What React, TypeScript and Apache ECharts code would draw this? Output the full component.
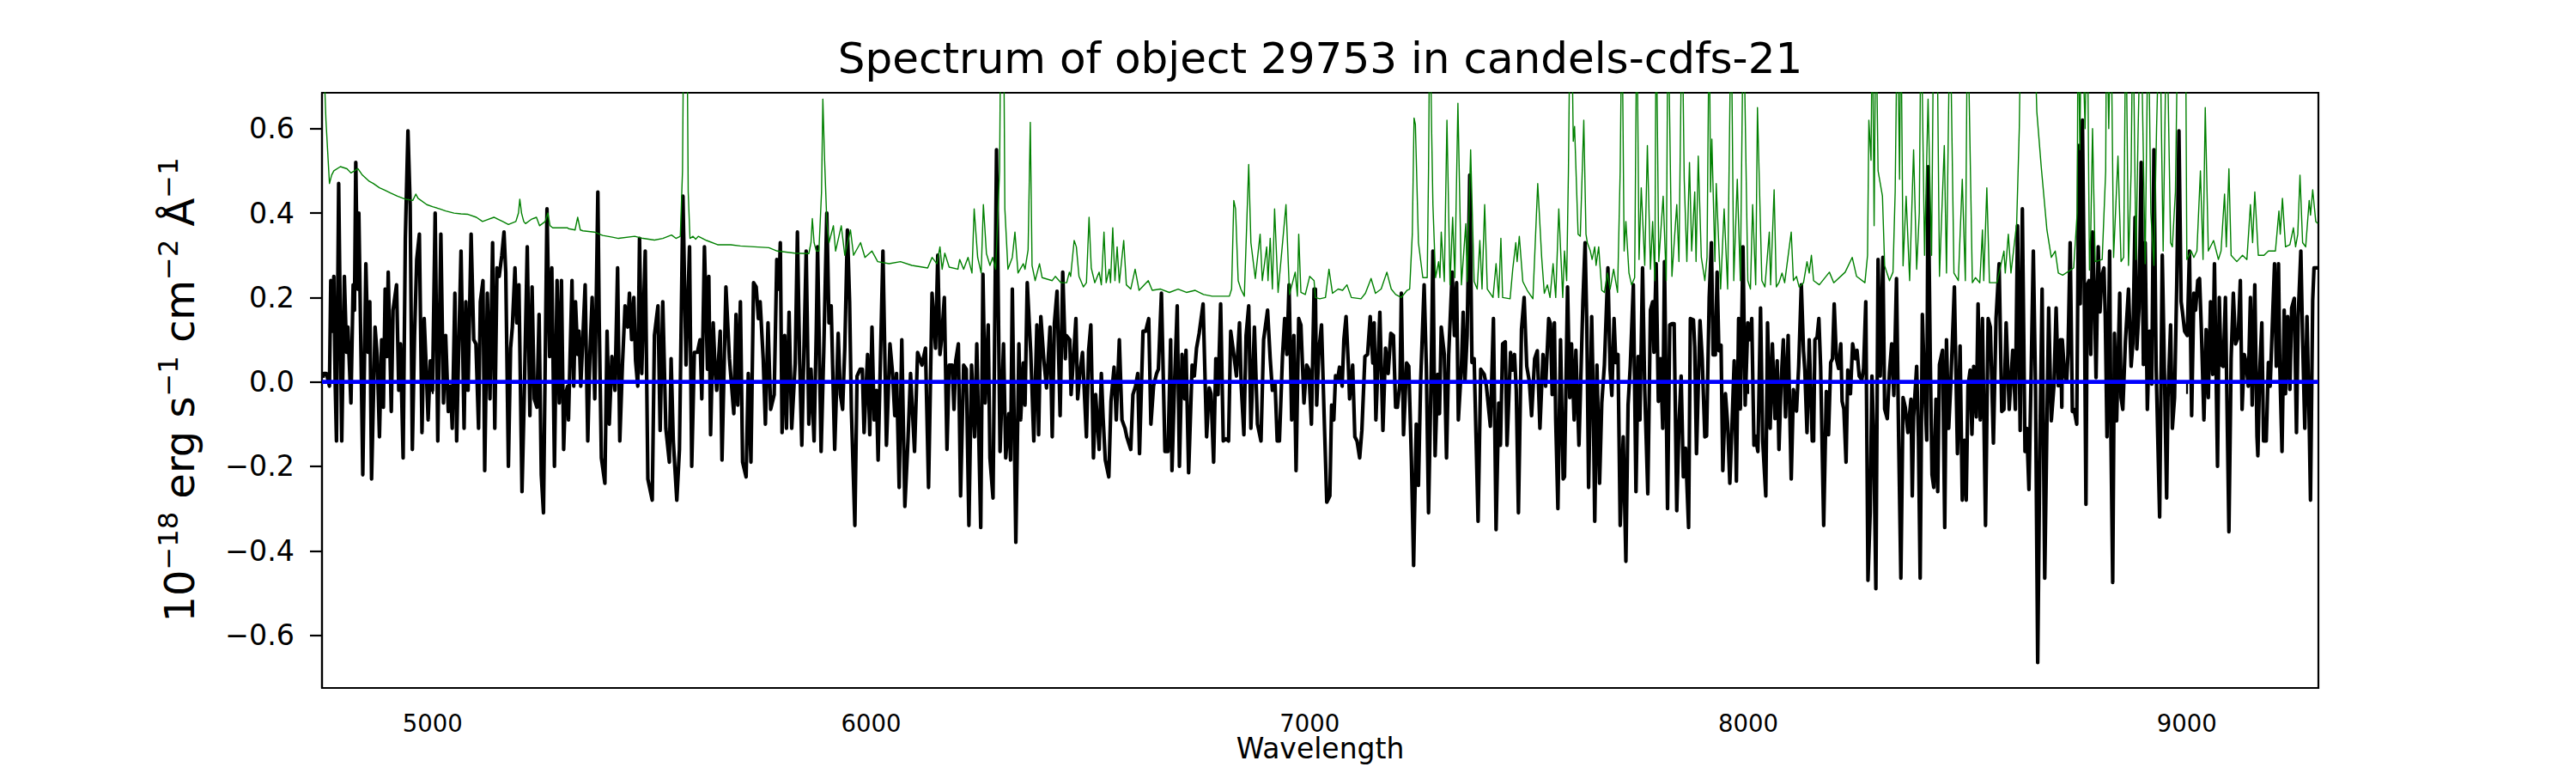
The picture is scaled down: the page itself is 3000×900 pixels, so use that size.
import React, { useEffect, useRef } from "react";
import * as echarts from "echarts";

const TITLE = "Spectrum of object 29753 in candels-cdfs-21";
const X_NAME = "Wavelength";
const X_RANGE = [4748, 9300];
const Y_RANGE = [-0.725, 0.685];
const X_TICKS = [5000, 6000, 7000, 8000, 9000];
const Y_TICKS = [-0.6, -0.4, -0.2, 0, 0.2, 0.4, 0.6];

// observed flux (black), wavelength in Å, flux in 1e-18 erg/s/cm2/Å
const fluxA = [[4750,0.01],[4752,0.02],[4758,0.02],[4765,-0.01],[4768,0.24],[4771,0.12],[4775,0.25],[4778,0.0],[4781,-0.14],[4786,0.47],[4793,-0.14],[4799,0.25],[4804,0.07],[4807,0.13],[4814,-0.05],[4819,0.23],[4822,0.17],[4825,0.52],[4829,0.22],[4832,0.40],[4837,0.06],[4841,-0.22],[4848,0.28],[4853,0.07],[4857,0.19],[4861,-0.23],[4869,0.13],[4874,0.06],[4879,-0.13],[4884,0.10],[4888,-0.06],[4892,0.22],[4896,0.06],[4899,0.26],[4906,-0.07],[4910,0.17],[4918,0.23],[4923,-0.02],[4927,0.09],[4933,-0.18],[4938,0.34],[4944,0.595],[4949,0.42],[4954,-0.16],[4959,0.11],[4964,0.29],[4970,0.35],[4976,-0.12],[4981,0.15],[4985,0.05],[4990,-0.09],[4995,0.05],[5000,-0.02],[5006,0.40],[5012,-0.14],[5019,0.35],[5025,-0.05],[5030,0.11],[5036,-0.07],[5041,-0.01],[5045,-0.11],[5051,0.21],[5055,-0.14],[5060,0.09],[5065,0.31],[5072,-0.11],[5076,0.19],[5081,-0.02],[5088,0.35],[5094,0.10],[5099,0.09],[5105,-0.11],[5109,0.19],[5115,0.24],[5119,-0.21],[5125,0.21],[5131,-0.04],[5137,0.33],[5142,-0.11],[5147,0.27],[5152,0.25],[5158,0.30],[5163,0.355],[5167,0.26],[5173,-0.20],[5178,0.08],[5182,0.13],[5188,0.27],[5192,0.14],[5197,0.23],[5204,-0.26],[5209,-0.04],[5216,0.32],[5222,-0.08],[5227,0.225],[5232,-0.04],[5238,-0.06],[5243,0.16],[5248,-0.22],[5253,-0.31],[5261,0.41],[5267,0.06],[5272,0.27],[5278,-0.20],[5284,0.24],[5289,-0.05],[5294,0.24],[5299,-0.16],[5303,-0.03],[5308,-0.01]];
const fluxB = [[5310,-0.09],[5318,0.24],[5322,-0.01],[5326,0.19],[5331,0.065],[5334,0.12],[5338,-0.01],[5343,0.11],[5348,0.23],[5354,-0.14],[5359,0.07],[5364,0.20],[5370,-0.04],[5377,0.45],[5380,0.15],[5385,-0.18],[5393,-0.24],[5398,0.12],[5403,-0.10],[5409,0.06],[5416,-0.02],[5422,0.27],[5427,-0.14],[5433,0.04],[5439,0.18],[5445,0.13],[5449,0.21],[5454,0.10],[5459,0.20],[5463,0.05],[5468,-0.01],[5472,0.34],[5477,0.02],[5485,0.31],[5491,-0.23],[5501,-0.28],[5506,0.11],[5514,0.18],[5519,-0.115],[5525,0.19],[5532,-0.11],[5540,-0.19],[5544,0.055],[5549,-0.14],[5557,-0.28],[5563,-0.16],[5571,0.44],[5578,0.04],[5586,0.32],[5591,-0.20],[5597,0.07],[5604,0.07],[5610,0.10],[5614,-0.04],[5620,0.32],[5627,0.03],[5630,0.25],[5634,-0.125],[5640,0.14],[5644,0.04],[5648,-0.02],[5656,0.12],[5660,-0.185],[5669,0.225],[5677,0.055],[5687,-0.075],[5692,0.16],[5696,-0.055],[5702,0.19],[5707,-0.19],[5715,-0.225],[5720,0.02],[5726,-0.19],[5732,0.235],[5738,0.225],[5743,0.15],[5747,0.19],[5754,0.055],[5759,-0.10],[5765,0.14],[5771,-0.065],[5779,-0.03],[5785,0.29],[5790,0.22],[5793,0.33],[5797,-0.12],[5803,0.11],[5807,-0.11],[5813,0.165],[5819,-0.11],[5827,0.045],[5832,0.355],[5837,0.055],[5842,-0.15],[5852,0.31],[5858,-0.10],[5863,0.03],[5870,-0.14],[5875,0.12]];
const fluxC = [[5878,0.32],[5886,-0.165],[5892,0.07],[5899,0.40],[5904,0.14],[5909,0.18],[5917,-0.16],[5925,0.115],[5930,-0.03],[5935,-0.065],[5940,0.08],[5946,0.36],[5951,0.19],[5955,-0.065],[5963,-0.34],[5968,0.014],[5975,0.03],[5980,0.03],[5984,-0.12],[5992,0.065],[5997,-0.125],[6002,0.13],[6007,-0.09],[6012,-0.02],[6016,-0.185],[6027,0.31],[6035,-0.15],[6043,0.09],[6049,0.02],[6054,-0.08],[6058,0.02],[6064,-0.25],[6070,0.10],[6077,-0.295],[6084,-0.14],[6090,0.02],[6099,-0.165],[6106,0.07],[6116,0.04],[6124,0.08],[6131,-0.25],[6139,0.21],[6147,0.08],[6152,0.30],[6157,0.065],[6161,0.105],[6167,0.20],[6173,-0.16],[6178,0.04],[6185,0.04],[6189,-0.065],[6193,0.05],[6199,0.09],[6204,-0.27],[6211,0.04],[6217,0.03],[6223,-0.34],[6229,0.04],[6236,-0.13],[6241,0.09],[6250,-0.345],[6255,0.255],[6260,-0.05],[6267,0.135],[6271,-0.18],[6278,-0.275],[6286,0.55],[6294,-0.165],[6302,0.09],[6307,-0.18],[6314,-0.075],[6318,-0.185],[6322,0.22],[6330,-0.38],[6337,0.09],[6341,-0.09],[6347,0.045],[6351,-0.055],[6356,0.235],[6364,0.07],[6371,-0.14],[6378,0.135],[6382,-0.125],[6387,0.155],[6394,0.05],[6400,-0.014],[6408,0.13],[6413,-0.13],[6418,0.14],[6424,0.215],[6431,-0.08],[6437,0.26],[6443,0.055]];
const fluxD = [[6445,0.11],[6453,0.10],[6456,-0.03],[6461,0.05],[6467,0.15],[6471,-0.04],[6476,0.02],[6482,0.07],[6491,-0.13],[6496,0.075],[6501,0.135],[6507,-0.18],[6512,-0.03],[6520,-0.16],[6525,0.02],[6529,-0.085],[6534,-0.185],[6542,-0.225],[6547,-0.046],[6554,0.035],[6559,-0.09],[6566,0.10],[6572,-0.09],[6579,-0.11],[6583,-0.13],[6592,-0.16],[6597,-0.03],[6603,-0.01],[6608,0.02],[6612,-0.17],[6620,0.12],[6626,0.12],[6633,0.15],[6638,-0.10],[6644,-0.01],[6651,0.02],[6655,0.03],[6662,0.21],[6670,-0.165],[6677,-0.165],[6683,0.10],[6686,-0.21],[6692,0.0],[6698,0.18],[6703,-0.20],[6709,0.065],[6715,-0.04],[6718,0.075],[6724,-0.215],[6732,0.04],[6737,0.014],[6742,0.08],[6748,0.115],[6757,0.185],[6765,-0.13],[6771,-0.014],[6775,-0.028],[6781,-0.19],[6786,0.055],[6791,-0.03],[6797,0.185],[6803,-0.14],[6809,-0.135],[6815,-0.14],[6820,0.12],[6827,0.065],[6833,0.014],[6840,0.14],[6844,-0.01],[6850,-0.125],[6855,0.11],[6861,0.18],[6866,-0.11],[6874,0.13],[6881,-0.10],[6889,-0.14],[6895,0.10],[6904,0.17],[6910,0.055],[6915,-0.02],[6921,0.0],[6926,-0.14],[6931,-0.14],[6938,0.06],[6943,0.15],[6948,0.065],[6953,0.23],[6959,-0.09],[6964,0.11],[6969,-0.21],[6975,0.15],[6980,0.135],[6987,-0.05],[6993,0.04],[6998,0.03],[7004,-0.10],[7010,0.22]];
const fluxE = [[7013,0.22],[7016,-0.055],[7021,0.075],[7027,0.135],[7033,-0.08],[7039,-0.285],[7046,-0.27],[7050,-0.055],[7055,-0.09],[7059,0.015],[7063,0.0],[7068,0.035],[7074,-0.01],[7078,0.10],[7083,0.155],[7088,0.045],[7091,-0.04],[7098,0.04],[7103,-0.13],[7108,-0.14],[7114,-0.18],[7119,-0.115],[7126,0.06],[7132,0.065],[7138,0.155],[7144,0.045],[7147,0.14],[7151,-0.09],[7160,0.165],[7167,-0.115],[7173,0.08],[7179,0.02],[7185,0.115],[7191,0.11],[7196,-0.06],[7200,-0.06],[7206,0.0],[7209,0.21],[7214,-0.125],[7221,0.045],[7226,0.037],[7232,-0.185],[7237,-0.435],[7243,-0.10],[7248,-0.245],[7253,0.0],[7261,0.23],[7266,0.037],[7271,-0.31],[7277,0.018],[7281,0.31],[7286,-0.175],[7292,0.018],[7296,-0.075],[7300,0.13],[7307,0.065],[7312,-0.18],[7317,0.065],[7325,0.26],[7330,0.11],[7335,0.235],[7339,-0.09],[7346,0.037],[7350,0.165],[7354,0.0],[7359,0.11],[7365,0.49],[7370,0.046],[7375,0.055],[7384,-0.33],[7390,0.03],[7398,0.018],[7403,-0.01],[7412,-0.105],[7419,0.15],[7425,-0.35],[7431,-0.05],[7435,-0.15],[7440,0.09],[7446,0.095],[7450,-0.15],[7458,0.07],[7463,0.028],[7467,0.065],[7471,-0.018],[7476,-0.31],[7483,0.125],[7489,0.20],[7495,0.037],[7501,0.0],[7506,-0.08],[7513,0.055],[7519,0.074],[7525,-0.11],[7532,0.065],[7538,-0.01],[7545,0.15],[7549,0.138],[7553,-0.03],[7558,0.14],[7561,-0.09],[7566,-0.30],[7572,0.10],[7578,-0.23]];
const fluxF = [[7581,-0.225],[7588,0.225],[7593,-0.037],[7597,0.09],[7603,-0.09],[7607,0.075],[7614,-0.15],[7619,0.037],[7623,0.19],[7628,0.33],[7632,0.13],[7636,-0.25],[7643,0.155],[7646,0.0],[7650,-0.33],[7655,0.04],[7661,-0.24],[7666,-0.05],[7672,0.04],[7680,0.27],[7685,0.028],[7689,-0.032],[7694,0.15],[7698,0.046],[7703,0.065],[7708,-0.34],[7715,-0.13],[7721,-0.425],[7726,-0.055],[7731,0.037],[7738,0.23],[7744,-0.26],[7749,0.06],[7753,-0.09],[7759,0.27],[7764,-0.018],[7771,-0.265],[7777,0.17],[7782,0.19],[7785,0.07],[7790,0.28],[7795,-0.046],[7800,0.055],[7805,-0.11],[7809,0.285],[7816,-0.30],[7821,0.135],[7826,0.138],[7831,0.138],[7837,-0.305],[7842,-0.10],[7847,0.014],[7852,-0.225],[7857,-0.157],[7864,-0.345],[7868,0.15],[7875,0.147],[7878,0.083],[7882,-0.17],[7890,0.145],[7895,0.055],[7901,-0.13],[7905,-0.128],[7911,0.20],[7916,0.33],[7920,0.064],[7925,0.064],[7929,0.26],[7933,0.074],[7938,0.087],[7942,-0.21],[7948,-0.028],[7953,-0.10],[7958,-0.24],[7963,-0.10],[7968,0.05],[7973,-0.235],[7978,0.15],[7982,-0.064],[7988,0.32],[7993,-0.055],[7999,0.14],[8004,0.10],[8008,0.15],[8013,-0.15],[8016,-0.128],[8022,-0.165],[8028,0.175],[8033,-0.14],[8040,-0.27],[8044,0.14],[8050,-0.11],[8055,0.09],[8061,-0.087],[8066,0.05],[8070,-0.16],[8075,0.0],[8080,0.10],[8085,-0.083],[8091,0.11],[8098,-0.23],[8103,-0.018],[8110,-0.069],[8115,0.037],[8121,0.23],[8126,0.074],[8129,0.028],[8134,-0.12],[8139,0.10],[8146,-0.14]];
const fluxG = [[8149,-0.14],[8152,0.10],[8157,0.106],[8161,0.15],[8165,0.037],[8172,-0.34],[8178,-0.023],[8183,-0.125],[8188,0.046],[8192,0.055],[8196,0.185],[8201,0.055],[8206,0.032],[8211,0.09],[8214,-0.046],[8218,-0.064],[8223,-0.19],[8227,0.028],[8233,-0.028],[8238,0.09],[8244,0.055],[8248,0.075],[8253,0.014],[8259,0.005],[8263,0.032],[8268,0.19],[8273,-0.47],[8278,-0.31],[8282,0.014],[8286,-0.13],[8291,-0.49],[8296,0.29],[8301,0.014],[8307,0.295],[8311,-0.064],[8317,-0.087],[8322,0.023],[8327,0.09],[8332,-0.032],[8338,0.245],[8343,-0.138],[8348,-0.465],[8353,-0.037],[8358,-0.06],[8364,-0.12],[8371,-0.041],[8374,-0.27],[8377,-0.083],[8384,0.037],[8388,-0.13],[8392,-0.465],[8397,0.16],[8402,-0.01],[8407,-0.138],[8410,0.51],[8415,0.055],[8419,-0.22],[8423,-0.25],[8428,-0.041],[8432,-0.26],[8436,0.041],[8443,0.075],[8448,-0.345],[8452,0.10],[8457,-0.11],[8462,0.0],[8470,0.225],[8477,-0.17],[8483,0.085],[8488,-0.28],[8493,-0.138],[8497,-0.28],[8501,-0.01],[8506,0.028],[8510,-0.124],[8514,0.037],[8520,-0.083],[8524,0.185],[8529,-0.09],[8534,0.15],[8541,-0.34],[8547,0.15],[8552,0.13],[8559,-0.145],[8565,0.15],[8572,0.28],[8578,-0.07],[8583,-0.065],[8588,0.14],[8595,-0.065],[8603,0.075],[8609,-0.065],[8614,0.37],[8620,-0.115],[8625,0.41],[8631,-0.165],[8635,-0.11],[8640,-0.255],[8645,0.018],[8650,0.31],[8655,-0.014],[8660,-0.665],[8665,-0.147],[8670,0.22],[8676,-0.465],[8681,-0.101],[8685,0.175],[8691,-0.092],[8697,-0.009],[8702,0.175],[8707,-0.009],[8712,0.10],[8715,-0.06]];
const fluxH = [[8716,0.10],[8721,0.023],[8726,0.0],[8729,0.065],[8734,0.33],[8739,-0.07],[8743,-0.065],[8749,-0.10],[8754,0.56],[8757,0.185],[8762,0.62],[8766,0.24],[8770,-0.29],[8773,0.23],[8777,0.24],[8781,0.065],[8785,0.355],[8789,0.22],[8793,0.01],[8798,0.32],[8802,0.166],[8806,0.25],[8811,0.27],[8814,0.157],[8818,-0.13],[8824,0.31],[8827,-0.134],[8831,-0.475],[8835,0.115],[8840,-0.092],[8847,0.21],[8850,-0.037],[8854,-0.065],[8860,0.097],[8867,0.22],[8873,0.037],[8877,0.092],[8882,0.39],[8886,0.078],[8891,0.175],[8896,0.52],[8901,0.041],[8905,0.33],[8910,-0.065],[8915,0.12],[8920,-0.005],[8925,0.55],[8930,0.037],[8938,-0.32],[8944,0.30],[8949,0.018],[8954,-0.275],[8957,-0.037],[8963,0.135],[8967,-0.11],[8972,-0.037],[8977,0.23],[8982,0.595],[8987,0.19],[8990,0.166],[8995,0.12],[9001,0.11],[9006,0.31],[9011,-0.08],[9016,0.21],[9020,0.17],[9025,0.24],[9029,0.245],[9033,0.129],[9039,-0.09],[9044,0.124],[9049,-0.037],[9054,0.19],[9059,0.018],[9063,0.28],[9070,-0.20],[9074,0.20],[9078,0.041],[9083,0.037],[9088,0.20],[9096,-0.355],[9101,0.055],[9106,0.21],[9111,0.09],[9117,0.106],[9122,0.24],[9126,-0.065],[9131,0.065],[9135,0.046],[9140,-0.01],[9145,0.20],[9149,-0.055],[9155,0.23],[9160,-0.129],[9162,-0.175],[9166,0.018],[9171,0.14],[9175,-0.14],[9181,-0.14],[9186,0.046],[9190,-0.01],[9196,0.165],[9200,0.28],[9204,0.037],[9209,0.28],[9212,0.037],[9217,-0.165],[9222,0.17],[9225,-0.028],[9230,0.155],[9235,-0.018],[9239,0.175],[9245,0.198],[9250,-0.12],[9254,0.157],[9260,0.31],[9264,0.10],[9269,-0.11],[9274,0.155],[9279,-0.092],[9282,-0.28],[9287,0.194],[9290,0.27],[9295,0.27],[9299,0.27]];

// error spectrum (green); values above the axis top are clipped
const errA = [[4749,0.85],[4757,0.62],[4765,0.47],[4770,0.49],[4775,0.50],[4790,0.51],[4805,0.505],[4814,0.495],[4830,0.505],[4840,0.49],[4856,0.475],[4865,0.47],[4879,0.46],[4890,0.455],[4905,0.447],[4920,0.44],[4938,0.433],[4955,0.43],[4962,0.445],[4967,0.435],[4987,0.42],[5000,0.415],[5016,0.41],[5030,0.405],[5049,0.40],[5065,0.398],[5081,0.397],[5100,0.39],[5114,0.38],[5140,0.39],[5160,0.38],[5173,0.373],[5190,0.38],[5196,0.40],[5199,0.433],[5203,0.40],[5208,0.38],[5212,0.375],[5225,0.385],[5237,0.39],[5244,0.37],[5257,0.38],[5263,0.40],[5268,0.37],[5274,0.365],[5283,0.365],[5308,0.365]];
const errB = [[5310,0.363],[5325,0.36],[5331,0.39],[5337,0.36],[5343,0.358],[5369,0.355],[5388,0.347],[5410,0.343],[5424,0.34],[5461,0.345],[5480,0.34],[5506,0.336],[5525,0.34],[5545,0.348],[5555,0.34],[5565,0.345],[5570,0.5],[5573,0.9],[5580,0.9],[5583,0.45],[5587,0.34],[5594,0.345],[5600,0.338],[5606,0.345],[5625,0.335],[5650,0.325],[5680,0.325],[5702,0.322],[5734,0.32],[5767,0.318],[5786,0.31],[5826,0.305],[5858,0.304],[5863,0.33],[5866,0.387],[5870,0.33],[5875,0.31]];
const errC = [[5881,0.31],[5887,0.45],[5890,0.67],[5894,0.525],[5899,0.38],[5904,0.33],[5914,0.37],[5919,0.31],[5932,0.37],[5940,0.30],[5953,0.36],[5960,0.30],[5976,0.33],[5986,0.295],[6002,0.31],[6015,0.285],[6041,0.28],[6067,0.285],[6093,0.276],[6129,0.27],[6139,0.295],[6150,0.28],[6157,0.32],[6162,0.267],[6168,0.305],[6178,0.272],[6198,0.267],[6202,0.29],[6211,0.267],[6221,0.295],[6230,0.258],[6235,0.41],[6243,0.295],[6251,0.258],[6256,0.42],[6263,0.304],[6271,0.276],[6277,0.295],[6284,0.267],[6293,0.5],[6296,0.9],[6302,0.9],[6305,0.41],[6312,0.267],[6322,0.295],[6328,0.355],[6335,0.258],[6347,0.28],[6351,0.267],[6358,0.313],[6363,0.615],[6367,0.276],[6374,0.24],[6384,0.28],[6390,0.247],[6413,0.24],[6420,0.25],[6433,0.235],[6446,0.235]];
const errD = [[6452,0.26],[6455,0.25],[6463,0.335],[6468,0.32],[6474,0.25],[6484,0.225],[6491,0.235],[6497,0.39],[6502,0.27],[6510,0.235],[6520,0.26],[6525,0.23],[6531,0.355],[6536,0.235],[6543,0.267],[6546,0.235],[6551,0.365],[6556,0.24],[6561,0.32],[6566,0.235],[6576,0.335],[6582,0.23],[6592,0.22],[6602,0.267],[6611,0.217],[6632,0.24],[6641,0.217],[6660,0.22],[6680,0.212],[6700,0.22],[6719,0.212],[6739,0.217],[6758,0.207],[6778,0.203],[6817,0.203],[6822,0.22],[6827,0.43],[6831,0.41],[6837,0.24],[6843,0.22],[6851,0.203],[6861,0.515],[6866,0.33],[6876,0.245],[6887,0.35],[6892,0.24],[6902,0.32],[6905,0.24],[6910,0.34],[6915,0.22],[6920,0.41],[6928,0.212],[6946,0.42],[6954,0.207],[6967,0.26],[6972,0.203],[6975,0.35],[6980,0.212],[6990,0.207],[7000,0.25],[7010,0.24]];
const errE = [[7013,0.20],[7023,0.197],[7036,0.20],[7044,0.267],[7052,0.21],[7065,0.22],[7075,0.217],[7085,0.23],[7095,0.20],[7117,0.197],[7127,0.21],[7140,0.245],[7150,0.21],[7163,0.22],[7176,0.26],[7186,0.22],[7196,0.207],[7209,0.20],[7222,0.217],[7228,0.22],[7234,0.35],[7238,0.625],[7241,0.61],[7248,0.33],[7258,0.247],[7268,0.247],[7271,0.5],[7274,0.9],[7278,0.6],[7281,0.42],[7287,0.247],[7294,0.285],[7297,0.247],[7300,0.355],[7307,0.238],[7313,0.62],[7320,0.23],[7326,0.39],[7331,0.247],[7338,0.66],[7346,0.23],[7356,0.375],[7359,0.238],[7367,0.55],[7375,0.238],[7382,0.22],[7388,0.335],[7393,0.22],[7399,0.42],[7405,0.22],[7418,0.20],[7425,0.28],[7431,0.20],[7436,0.34],[7440,0.20],[7457,0.197],[7463,0.267],[7470,0.33],[7473,0.285],[7478,0.345],[7486,0.238],[7496,0.217],[7509,0.197],[7520,0.47],[7529,0.295],[7535,0.21],[7542,0.23],[7548,0.20],[7555,0.28],[7561,0.20],[7568,0.41],[7577,0.20]];
const errF = [[7581,0.31],[7586,0.24],[7590,0.5],[7594,0.9],[7597,0.9],[7601,0.57],[7604,0.605],[7612,0.35],[7617,0.345],[7625,0.62],[7630,0.35],[7633,0.33],[7640,0.31],[7644,0.29],[7650,0.32],[7653,0.276],[7659,0.32],[7666,0.217],[7672,0.212],[7679,0.258],[7685,0.22],[7693,0.267],[7702,0.212],[7708,0.5],[7712,0.9],[7717,0.31],[7721,0.38],[7728,0.258],[7734,0.23],[7741,0.247],[7746,0.9],[7751,0.29],[7756,0.46],[7764,0.276],[7770,0.56],[7777,0.267],[7782,0.38],[7787,0.24],[7790,0.9],[7796,0.285],[7806,0.44],[7813,0.24],[7817,0.9],[7826,0.25],[7837,0.42],[7842,0.285],[7849,0.9],[7854,0.48],[7860,0.285],[7866,0.52],[7871,0.31],[7878,0.45],[7881,0.285],[7886,0.535],[7893,0.295],[7901,0.24],[7906,0.295],[7911,0.9],[7914,0.45],[7917,0.575],[7924,0.285],[7927,0.47],[7937,0.22],[7945,0.41],[7953,0.22],[7961,0.9],[7967,0.24],[7975,0.48],[7982,0.24],[7989,0.9],[7999,0.24],[8005,0.22],[8010,0.42],[8017,0.23],[8021,0.65],[8031,0.24],[8038,0.225],[8048,0.355],[8051,0.23],[8059,0.455],[8064,0.225],[8070,0.235],[8077,0.258],[8083,0.235],[8098,0.355],[8103,0.24],[8110,0.25],[8116,0.225],[8126,0.235],[8134,0.285],[8139,0.258],[8144,0.30],[8149,0.24]];
const errG = [[8162,0.23],[8185,0.26],[8195,0.235],[8221,0.26],[8237,0.295],[8247,0.25],[8266,0.235],[8272,0.30],[8275,0.62],[8280,0.525],[8283,0.9],[8287,0.37],[8291,0.9],[8296,0.5],[8306,0.44],[8311,0.275],[8322,0.24],[8330,0.26],[8335,0.45],[8340,0.9],[8345,0.48],[8348,0.9],[8353,0.275],[8360,0.44],[8368,0.24],[8377,0.55],[8384,0.267],[8390,0.4],[8394,0.9],[8402,0.30],[8410,0.67],[8418,0.30],[8423,0.9],[8430,0.9],[8436,0.25],[8447,0.56],[8452,0.258],[8460,0.9],[8469,0.258],[8479,0.24],[8488,0.48],[8495,0.24],[8500,0.9],[8511,0.235],[8518,0.247],[8528,0.235],[8534,0.36],[8537,0.24],[8544,0.46],[8550,0.235],[8567,0.235],[8583,0.31],[8586,0.258],[8593,0.35],[8599,0.258],[8612,0.375],[8618,0.6],[8622,0.9],[8651,0.9],[8658,0.64],[8668,0.51],[8681,0.36],[8691,0.295],[8700,0.31],[8707,0.258],[8717,0.253]];
const errH = [[8742,0.27],[8750,0.4],[8752,0.9],[8756,0.55],[8760,0.9],[8768,0.6],[8773,0.9],[8778,0.265],[8781,0.355],[8785,0.60],[8791,0.285],[8807,0.29],[8815,0.5],[8817,0.9],[8822,0.6],[8827,0.9],[8833,0.295],[8843,0.535],[8850,0.285],[8856,0.295],[8861,0.9],[8867,0.276],[8873,0.5],[8877,0.9],[8884,0.29],[8889,0.6],[8895,0.9],[8905,0.28],[8912,0.9],[8918,0.4],[8925,0.276],[8931,0.6],[8938,0.9],[8946,0.31],[8954,0.9],[8963,0.33],[8967,0.32],[8974,0.45],[8980,0.9],[8997,0.9],[9000,0.29],[9010,0.31],[9016,0.295],[9023,0.31],[9031,0.50],[9037,0.29],[9042,0.65],[9049,0.31],[9061,0.335],[9072,0.29],[9078,0.31],[9086,0.445],[9090,0.32],[9096,0.505],[9101,0.30],[9114,0.285],[9127,0.30],[9137,0.29],[9145,0.42],[9150,0.33],[9155,0.45],[9163,0.30],[9176,0.30],[9186,0.31],[9202,0.31],[9210,0.405],[9213,0.35],[9218,0.435],[9225,0.32],[9235,0.325],[9243,0.365],[9248,0.32],[9253,0.35],[9258,0.49],[9264,0.33],[9271,0.32],[9279,0.43],[9282,0.395],[9287,0.455],[9294,0.38],[9299,0.375]];

// model (blue)
const modelWave = [4748, 9300];
const modelFlux = [0, 0];

const FONT = "DejaVu Sans";

function fmtY(v: number) {
  const s = Math.abs(v).toFixed(1);
  return v < -1e-9 ? "\u2212" + s : s;
}

export default function App() {
  const ref = useRef<HTMLDivElement>(null);
  useEffect(() => {
    document.body.style.margin = "0";
    const chart = echarts.init(ref.current!, null, { renderer: "svg" });
    const flux = [...fluxA, ...fluxB, ...fluxC, ...fluxD, ...fluxE, ...fluxF, ...fluxG, ...fluxH];
    const err = [...errA, ...errB, ...errC, ...errD, ...errE, ...errF, ...errG, ...errH];
    const model = modelWave.map((w, i) => [w, modelFlux[i]]);
    chart.setOption({
      animation: false,
      backgroundColor: "#ffffff",
      grid: {
        left: 375, right: 300, top: 108, bottom: 99,
        show: true, borderColor: "#000", borderWidth: 2.2, backgroundColor: "transparent",
      },
      xAxis: {
        type: "value", min: X_RANGE[0], max: X_RANGE[1],
        splitLine: { show: false },
        axisLine: { show: true, lineStyle: { color: "#000", width: 2.2 } },
        axisTick: { show: true, length: 14, lineStyle: { color: "#000", width: 2.2 }, customValues: X_TICKS },
        axisLabel: { customValues: X_TICKS, color: "#000", fontFamily: FONT, fontSize: 27.5, margin: 27, formatter: (v: number) => String(v) },
      },
      yAxis: {
        type: "value", min: Y_RANGE[0], max: Y_RANGE[1],
        splitLine: { show: false },
        axisLine: { show: true, lineStyle: { color: "#000", width: 2.2 } },
        axisTick: { show: true, length: 14, lineStyle: { color: "#000", width: 2.2 }, customValues: Y_TICKS },
        axisLabel: { customValues: Y_TICKS, color: "#000", fontFamily: FONT, fontSize: 33.3, margin: 32, formatter: (v: number) => fmtY(v) },
      },
      graphic: [
        {
          type: "text", x: 1537.5, y: 67.5, silent: true,
          style: { text: TITLE, fill: "#000", font: `50px "${FONT}"`, textAlign: "center", textVerticalAlign: "middle" },
        },
        {
          type: "text", x: 1537.5, y: 871.5, silent: true,
          style: { text: X_NAME, fill: "#000", font: `33px "${FONT}"`, textAlign: "center", textVerticalAlign: "middle" },
        },
        {
          type: "text", x: 209, y: 454, rotation: Math.PI / 2, silent: true,
          style: {
            text: "{b|10}{s|\u221218}{b| erg s}{s|\u22121}{b| cm}{s|\u22122}{b| \u00c5}{s|\u22121}",
            fill: "#000", textAlign: "center", textVerticalAlign: "middle",
            rich: {
              b: { fontFamily: FONT, fontSize: 48, lineHeight: 59, fill: "#000", verticalAlign: "middle" },
              s: { fontFamily: FONT, fontSize: 32, lineHeight: 32, fill: "#000", verticalAlign: "top" },
            },
          },
        },
      ],
      series: [
        {
          type: "line", data: flux, showSymbol: false, symbol: "none", z: 2, silent: true,
          lineStyle: { color: "#000000", width: 4.2, join: "round" },
        },
        {
          type: "line", data: err, showSymbol: false, symbol: "none", z: 3, silent: true,
          lineStyle: { color: "#008000", width: 1.4, join: "round" },
        },
        {
          type: "line", data: model, showSymbol: false, symbol: "none", z: 4, silent: true,
          lineStyle: { color: "#0000ff", width: 4.6 },
        },
      ],
    });
    return () => chart.dispose();
  }, []);
  return <div ref={ref} style={{ width: 3000, height: 900 }} />;
}
